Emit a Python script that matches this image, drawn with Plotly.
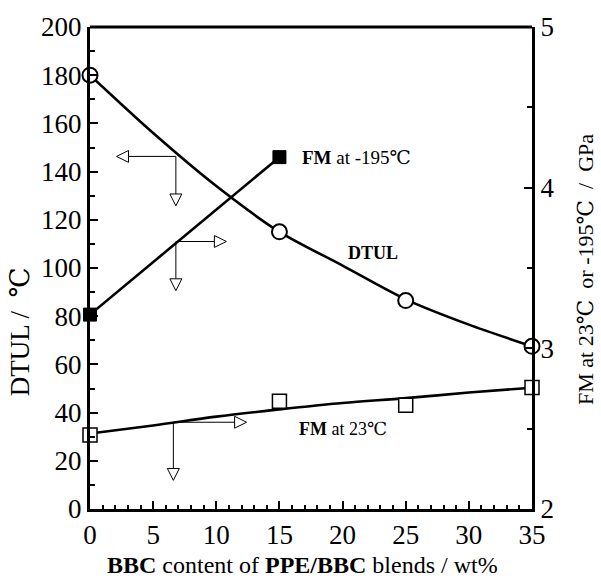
import plotly.graph_objects as go

# ---- data ----
blend = [0, 15, 25, 35]                 # BBC content, wt%
dtul = [180, 115, 86.5, 67.5]           # DTUL, degC
fm23 = [2.46, 2.67, 2.645, 2.757]       # FM at 23 degC, GPa
blend_m195 = [0, 15]
fm_m195 = [3.21, 4.19]                  # FM at -195 degC, GPa

# fitted curves as drawn in the reference
fit_x = [0, 5, 10, 15, 20, 25, 30, 35]
dtul_fit = [180, 156, 134, 115, 101, 87, 76.5, 67.5]
fm23_fit = [2.47, 2.52, 2.575, 2.62, 2.66, 2.69, 2.725, 2.755]

x_ticks = [0, 5, 10, 15, 20, 25, 30, 35]
y_ticks = [0, 20, 40, 60, 80, 100, 120, 140, 160, 180, 200]
y2_ticks = [2, 3, 4, 5]

FONT = "Times New Roman, Liberation Serif, DejaVu Serif, serif"

fig = go.Figure()

fig.add_trace(go.Scatter(x=fit_x, y=dtul_fit, mode="lines", line=dict(color="black", width=2.6, shape="spline", smoothing=0.8),
                         hoverinfo="skip", showlegend=False))
fig.add_trace(go.Scatter(x=fit_x, y=fm23_fit, yaxis="y2", mode="lines",
                         line=dict(color="black", width=2.6, shape="spline"), hoverinfo="skip", showlegend=False))
fig.add_trace(go.Scatter(x=blend_m195, y=fm_m195, yaxis="y2", mode="lines+markers",
                         line=dict(color="black", width=2.6),
                         marker=dict(symbol="square", size=13, color="black", line=dict(color="black", width=1)),
                         cliponaxis=False, showlegend=False))
fig.add_trace(go.Scatter(x=blend, y=dtul, mode="markers",
                         marker=dict(symbol="circle", size=15, color="white", line=dict(color="black", width=2)),
                         cliponaxis=False, showlegend=False))
fig.add_trace(go.Scatter(x=blend, y=fm23, yaxis="y2", mode="markers",
                         marker=dict(symbol="square", size=14, color="white", line=dict(color="black", width=1.5)),
                         cliponaxis=False, showlegend=False))

# ---- open-headed arrows (decorations) ----
PX_X = 35 / 442.0   # data units per pixel (x)
PX_Y = 200 / 488.0  # data units per pixel (y)
L, W = 12, 6
shapes = []

def seg(x0, y0, x1, y1):
    shapes.append(dict(type="line", xref="x", yref="y", x0=x0, y0=y0, x1=x1, y1=y1,
                       line=dict(color="black", width=1)))

def tri(xt, yt, direction):
    if direction == "left":
        pts = [(xt, yt), (xt + L * PX_X, yt + W * PX_Y), (xt + L * PX_X, yt - W * PX_Y)]
    elif direction == "right":
        pts = [(xt, yt), (xt - L * PX_X, yt + W * PX_Y), (xt - L * PX_X, yt - W * PX_Y)]
    else:  # down
        pts = [(xt, yt), (xt - W * PX_X, yt + L * PX_Y), (xt + W * PX_X, yt + L * PX_Y)]
    path = "M {},{} L {},{} L {},{} Z".format(*[v for p in pts for v in p])
    shapes.append(dict(type="path", xref="x", yref="y", path=path, fillcolor="white",
                       line=dict(color="black", width=1)))

def arrow(xj, yj, xh, hdir, yd):
    if hdir == "left":
        seg(xj, yj, xh + L * PX_X, yj)
    else:
        seg(xj, yj, xh - L * PX_X, yj)
    tri(xh, yj, hdir)
    seg(xj, yj, xj, yd + L * PX_Y)
    tri(xj, yd, "down")

arrow(6.8, 146.3, 2.1, "left", 125.8)
arrow(6.8, 111.0, 10.8, "right", 90.6)
arrow(6.6, 36.0, 12.4, "right", 11.9)

axis_common = dict(showline=True, linecolor="black", linewidth=3, mirror=False, showgrid=False,
                   zeroline=False, ticks="inside", tickcolor="black", tickwidth=2, ticklen=8,
                   tickfont=dict(family=FONT, size=27, color="black"))

fig.update_layout(
    width=601, height=588,
    margin=dict(l=90, r=69, t=21, b=79),
    paper_bgcolor="white", plot_bgcolor="white",
    font=dict(family=FONT, color="black"),
    shapes=shapes + [dict(type="line", xref="paper", yref="paper", x0=0, x1=1, y0=1, y1=1,
                          line=dict(color="black", width=3))],
    xaxis=dict(range=[0, 35], tickvals=x_ticks, ticktext=[str(v) for v in x_ticks],
               minor=dict(ticks="inside", dtick=1, ticklen=4, tickwidth=1.5, tickcolor="black"),
               **axis_common),
    yaxis=dict(range=[0, 200], tickvals=y_ticks, ticktext=[str(v) for v in y_ticks],
               minor=dict(ticks="inside", dtick=10, ticklen=5, tickwidth=2, tickcolor="black"),
               **axis_common),
    yaxis2=dict(range=[2, 5], overlaying="y", side="right", anchor="x",
                tickvals=y2_ticks, ticktext=[str(v) for v in y2_ticks],
                minor=dict(ticks="inside", dtick=0.5, ticklen=5, tickwidth=2, tickcolor="black"),
                **axis_common),
    showlegend=False,
)

fig.add_annotation(text="DTUL /  ℃", xref="paper", yref="paper", x=(20 - 90) / 442, y=(509 - 330) / 488,
                   textangle=-90, showarrow=False, font=dict(family=FONT, size=27, color="black"),
                   xanchor="center", yanchor="middle")
fig.add_annotation(text="FM at 23℃  or -195℃  /  GPa", xref="paper", yref="paper", x=(586 - 90) / 442,
                   y=(509 - 267) / 488,
                   textangle=-90, showarrow=False, font=dict(family=FONT, size=22, color="black"),
                   xanchor="center", yanchor="middle")
fig.add_annotation(text="<b>BBC</b> content of <b>PPE/BBC</b> blends / wt%", xref="paper", yref="paper",
                   x=(302 - 90) / 442, y=(509 - 566) / 488, showarrow=False,
                   font=dict(family=FONT, size=24, color="black"),
                   xanchor="center", yanchor="middle")
fig.add_annotation(text="<b>FM</b> at -195℃", xref="paper", yref="paper", x=(300 - 90) / 442, y=(509 - 153) / 488,
                   xanchor="left", yanchor="middle", showarrow=False,
                   font=dict(family=FONT, size=19, color="black"))
fig.add_annotation(text="<b>DTUL</b>", xref="paper", yref="paper", x=(346 - 90) / 442, y=(509 - 250) / 488,
                   xanchor="left", yanchor="middle", showarrow=False,
                   font=dict(family=FONT, size=18, color="black"))
fig.add_annotation(text="<b>FM</b> at 23℃", xref="paper", yref="paper", x=(297 - 90) / 442, y=(509 - 428) / 488,
                   xanchor="left", yanchor="middle", showarrow=False,
                   font=dict(family=FONT, size=18, color="black"))

fig.write_html("out.html")
